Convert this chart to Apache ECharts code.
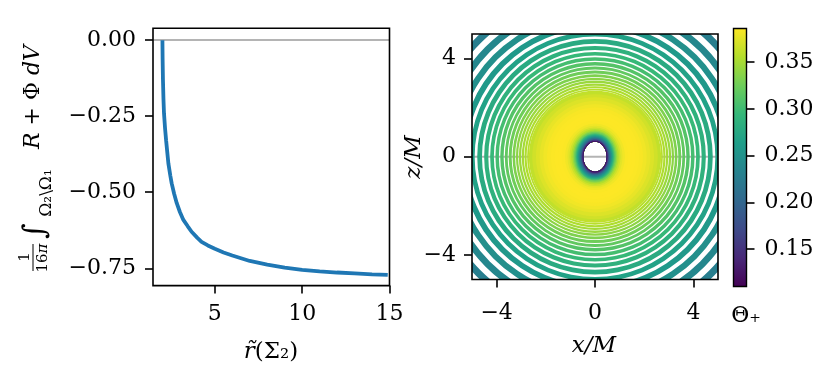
<!DOCTYPE html>
<html><head><meta charset="utf-8">
<script src="https://cdn.jsdelivr.net/npm/echarts@6/dist/echarts.min.js"></script>
<style>html,body{margin:0;padding:0;background:#fff}#c{width:832px;height:385px}</style>
</head><body><div id="c"></div>
<script>
// ---- left panel: integral vs r~(Sigma_2) ----
const curveX = [2.00, 2.01, 2.03, 2.06, 2.09, 2.15, 2.21, 2.28, 2.34, 2.45, 2.53, 2.67, 2.82, 3.00, 3.20, 3.45, 3.67, 4.00, 4.24, 4.60, 5.00, 5.50, 6.00, 7.00, 8.00, 9.00, 10.00, 11.00, 12.00, 13.00, 14.00, 14.90];
const curveY = [0.000, -0.060, -0.130, -0.195, -0.241, -0.290, -0.329, -0.370, -0.405, -0.445, -0.471, -0.505, -0.536, -0.565, -0.591, -0.612, -0.630, -0.650, -0.663, -0.675, -0.686, -0.698, -0.708, -0.726, -0.738, -0.748, -0.755, -0.760, -0.764, -0.767, -0.770, -0.772];
const leftXRange = [1.46, 15];
const leftYRange = [-0.807, 0.039];
const leftXTicks = [5, 10, 15];
const leftYTicks = [-0.75, -0.50, -0.25, 0.00];

// ---- right panel: Theta_+ on the (x,z) plane ----
const mapRange = [-5, 5];
const mapTicks = [-4, 0, 4];
const holeRadii = [0.475, 0.61];           // excised region (x, z semi-axes)
// continuous inner zone: outer x-radius, z/x aspect, value
const diskR      = [2.689, 2.55, 2.40, 2.25, 2.10, 1.95, 1.80, 1.65, 1.50, 1.35, 1.22, 1.12, 1.04, 0.97, 0.91, 0.86, 0.81, 0.77, 0.73, 0.69, 0.65, 0.61, 0.575, 0.545, 0.52, 0.50, 0.488];
const diskAspect = [1.00, 1.00, 1.01, 1.01, 1.02, 1.03, 1.04, 1.05, 1.07, 1.09, 1.11, 1.13, 1.15, 1.17, 1.18, 1.19, 1.20, 1.21, 1.22, 1.23, 1.24, 1.25, 1.26, 1.27, 1.27, 1.28, 1.28];
const diskVal    = [0.361, 0.367, 0.372, 0.377, 0.381, 0.384, 0.385, 0.386, 0.386, 0.385, 0.381, 0.375, 0.366, 0.355, 0.342, 0.327, 0.310, 0.292, 0.272, 0.252, 0.232, 0.210, 0.188, 0.165, 0.143, 0.125, 0.112];
// outer banded zone: ring inner / outer radius, value
const ringInner = [2.689, 2.780, 2.891, 3.003, 3.124, 3.246, 3.388, 3.551, 3.714, 3.907, 4.112, 4.337, 4.594, 4.893, 5.214, 5.598, 6.037, 6.553, 7.159];
const ringOuter = [2.760, 2.869, 2.977, 3.096, 3.214, 3.352, 3.509, 3.666, 3.853, 4.048, 4.263, 4.506, 4.787, 5.086, 5.442, 5.843, 6.307, 6.841, 7.600];
const ringVal   = [0.357, 0.353, 0.349, 0.344, 0.338, 0.332, 0.325, 0.318, 0.311, 0.303, 0.295, 0.287, 0.278, 0.268, 0.258, 0.248, 0.238, 0.228, 0.218];

// ---- colorbar ----
const cbRange = [0.110, 0.386];
const cbTicks = [0.15, 0.20, 0.25, 0.30, 0.35];
const viridis = ['#440154', '#482878', '#3e4a89', '#31688e', '#26828e', '#1f9e89', '#35b779', '#6dcd59', '#b4de2c', '#fde725'];

const FONT = '"DejaVu Serif","Liberation Serif",serif';
const FS = 22;
const minus = s => s.replace('-', '\u2212');

const chart = echarts.init(document.getElementById('c'));

const axisCommon = {
  axisLine: {show: false, onZero: false},
  splitLine: {show: false},
  axisTick: {show: true, inside: false, length: 8, lineStyle: {color: '#000', width: 1.6}},
};

function renderDisk(params, api) {
  const c = api.coord([0, 0]);
  const r = api.value(0), a = api.value(1);
  const o = api.size([r, r * a]);
  const h = api.size([holeRadii[0], holeRadii[1]]);
  const cx = c[0], cy = c[1];
  const p = 'M' + (cx + o[0]) + ' ' + cy + 'A' + o[0] + ' ' + o[1] + ' 0 1 0 ' + (cx - o[0]) + ' ' + cy +
            'A' + o[0] + ' ' + o[1] + ' 0 1 0 ' + (cx + o[0]) + ' ' + cy + 'Z' +
            'M' + (cx + h[0]) + ' ' + cy + 'A' + h[0] + ' ' + h[1] + ' 0 1 1 ' + (cx - h[0]) + ' ' + cy +
            'A' + h[0] + ' ' + h[1] + ' 0 1 1 ' + (cx + h[0]) + ' ' + cy + 'Z';
  return {type: 'path', shape: {pathData: p}, style: {fill: api.visual('color')}, z2: params.dataIndex};
}
function renderRing(params, api) {
  const c = api.coord([0, 0]);
  const r0 = api.size([api.value(0), 0])[0];
  const r = api.size([api.value(1), 0])[0];
  return {type: 'ring', shape: {cx: c[0], cy: c[1], r: r, r0: r0}, style: {fill: api.visual('color')}};
}
function renderBar(params, api) {
  const p1 = api.coord([0, api.value(1)]);
  const p2 = api.coord([1, api.value(0)]);
  const stops = viridis.map((col, i) => ({offset: i / (viridis.length - 1), color: col}));
  return {type: 'rect', shape: {x: p1[0], y: p1[1], width: p2[0] - p1[0], height: p2[1] - p1[1]},
    style: {fill: new echarts.graphic.LinearGradient(0, 1, 0, 0, stops), stroke: '#000', lineWidth: 1.4}};
}
const lab = (extra) => Object.assign({color: '#000', fontFamily: FONT, fontSize: FS}, extra);

const option = {
  animation: false,
  grid: [
    {left: 153, top: 28.3, width: 236.5, height: 257.3, show: true, borderColor: '#000', borderWidth: 1.6, z: 10},
    {left: 472, top: 34, width: 246, height: 245.5, show: true, borderColor: '#000', borderWidth: 1.6, z: 10},
    {left: 733.5, top: 28.5, width: 13, height: 258, show: false}
  ],
  xAxis: [
    Object.assign({}, axisCommon, {type: 'value', gridIndex: 0, min: leftXRange[0], max: leftXRange[1],
      axisTick: Object.assign({}, axisCommon.axisTick, {customValues: leftXTicks}),
      axisLabel: lab({customValues: leftXTicks, margin: 18})}),
    Object.assign({}, axisCommon, {type: 'value', gridIndex: 1, min: mapRange[0], max: mapRange[1],
      axisTick: Object.assign({}, axisCommon.axisTick, {customValues: mapTicks}),
      axisLabel: lab({customValues: mapTicks, margin: 23, formatter: v => minus(String(v))})}),
    {type: 'value', gridIndex: 2, min: 0, max: 1, show: false}
  ],
  yAxis: [
    Object.assign({}, axisCommon, {type: 'value', gridIndex: 0, min: leftYRange[0], max: leftYRange[1],
      axisTick: Object.assign({}, axisCommon.axisTick, {customValues: leftYTicks}),
      axisLabel: lab({customValues: leftYTicks, margin: 17, formatter: v => minus(v.toFixed(2))})}),
    Object.assign({}, axisCommon, {type: 'value', gridIndex: 1, min: mapRange[0], max: mapRange[1],
      axisTick: Object.assign({}, axisCommon.axisTick, {customValues: mapTicks}),
      axisLabel: lab({customValues: mapTicks, margin: 16, formatter: v => minus(String(v))})}),
    Object.assign({}, axisCommon, {type: 'value', gridIndex: 2, position: 'right', min: cbRange[0], max: cbRange[1],
      axisTick: Object.assign({}, axisCommon.axisTick, {customValues: cbTicks}),
      axisLabel: lab({customValues: cbTicks, margin: 18, formatter: v => v.toFixed(2)})})
  ],
  visualMap: {
    show: false, type: 'continuous', min: cbRange[0], max: cbRange[1], dimension: 2, seriesIndex: [2, 3],
    inRange: {color: viridis}
  },
  series: [
    {type: 'line', xAxisIndex: 0, yAxisIndex: 0, showSymbol: false, z: 3,
      data: curveX.map((x, i) => [x, curveY[i]]),
      lineStyle: {color: '#1f77b4', width: 3.8}, itemStyle: {color: '#1f77b4'},
      markLine: {silent: true, symbol: 'none', label: {show: false}, z: 1,
        lineStyle: {color: '#b4b4b4', width: 1.8, type: 'solid'}, data: [{yAxis: 0}]}},
    {type: 'line', xAxisIndex: 1, yAxisIndex: 1, showSymbol: false, z: 1,
      data: [[mapRange[0], 0], [mapRange[1], 0]], lineStyle: {color: '#b4b4b4', width: 1.8}},
    {type: 'custom', xAxisIndex: 1, yAxisIndex: 1, clip: true, z: 2, renderItem: renderDisk,
      data: diskR.map((r, i) => [r, diskAspect[i], diskVal[i]])},
    {type: 'custom', xAxisIndex: 1, yAxisIndex: 1, clip: true, z: 2, renderItem: renderRing,
      data: ringInner.map((r, i) => [r, ringOuter[i], ringVal[i]])},
    {type: 'custom', xAxisIndex: 2, yAxisIndex: 2, z: 2, renderItem: renderBar,
      data: [[cbRange[0], cbRange[1]]]}
  ],
  graphic: [
    {type: 'group', x: 0, y: 275, rotation: Math.PI / 2, children: [
      {type: 'text', x: 18, y: 25, style: {text: '1', font: '15px ' + FONT, fill: '#000', align: 'center', verticalAlign: 'middle'}},
      {type: 'line', shape: {x1: 4, y1: 33, x2: 31, y2: 33}, style: {stroke: '#000', lineWidth: 1}},
      {type: 'text', x: 17, y: 43, style: {text: '16{i|π}', font: '15px ' + FONT, fill: '#000', align: 'center', verticalAlign: 'middle',
        rich: {i: {font: 'italic 15px ' + FONT, fill: '#000'}}}},
      {type: 'text', x: 44, y: 36, style: {text: '∫', font: '30px ' + FONT, fill: '#000', align: 'center', verticalAlign: 'middle'}},
      {type: 'text', x: 82, y: 47, style: {text: 'Ω₂\\Ω₁', font: '17px ' + FONT, fill: '#000', align: 'center', verticalAlign: 'middle'}},
      {type: 'text', x: 178, y: 33, style: {text: '{i|R} + Φ {i|dV}', font: '22px ' + FONT, fill: '#000', align: 'center', verticalAlign: 'middle',
        rich: {i: {font: 'italic 22px ' + FONT, fill: '#000'}}}}
    ]},
    {type: 'text', x: 271, y: 352, style: {text: '{i|r̃}(Σ₂)', font: '23px ' + FONT, fill: '#000', align: 'center', verticalAlign: 'middle',
      rich: {i: {font: 'italic 23px ' + FONT, fill: '#000'}}}},
    {type: 'text', x: 594, y: 346, style: {text: 'x/M', font: 'italic 23px ' + FONT, fill: '#000', align: 'center', verticalAlign: 'middle'}},
    {type: 'text', x: 414, y: 157, rotation: Math.PI / 2, style: {text: 'z/M', font: 'italic 23px ' + FONT, fill: '#000', align: 'center', verticalAlign: 'middle'}},
    {type: 'text', x: 746, y: 316, style: {text: 'Θ₊', font: '22px ' + FONT, fill: '#000', align: 'center', verticalAlign: 'middle'}}
  ]
};
chart.setOption(option);
</script>
</body></html>
